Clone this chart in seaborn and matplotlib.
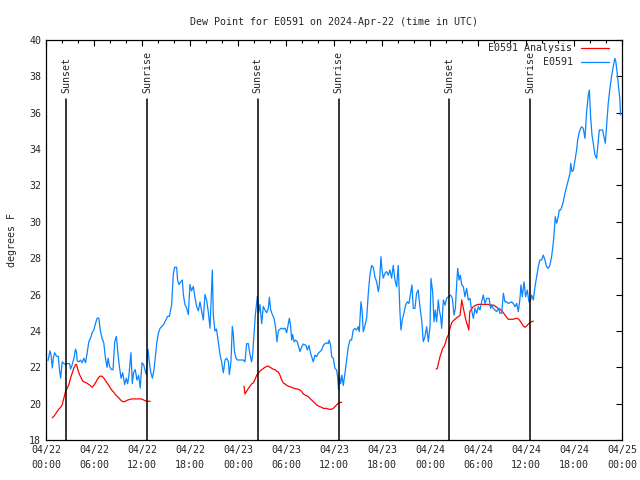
import numpy as np
import pandas as pd
import matplotlib
matplotlib.use('Agg')
import matplotlib.pyplot as plt
import seaborn as sns

# hours since 2024-04-22 00:00 UTC
obs_hours = [0.25, 0.5, 0.62, 0.79, 0.91, 1.08, 1.33, 1.54, 1.66, 1.83, 2.03, 2.24, 2.45, 2.66, 2.95,
             3.07, 3.28, 3.49, 3.69, 3.82, 3.9, 4.11, 4.31, 4.52, 4.73, 4.94, 5.15, 5.35, 5.56, 5.77,
             5.98, 6.18, 6.39, 6.6, 6.8, 7.0, 7.22, 7.43, 7.63, 7.76, 7.93, 8.18, 8.38, 8.59, 8.8,
             8.96, 9.17, 9.38, 9.59, 9.83, 10.04, 10.2, 10.37, 10.62, 10.79, 10.95, 11.16, 11.37, 11.58,
             11.78, 12.0, 12.2, 12.4, 12.53, 12.74, 12.95, 13.1, 13.3, 13.5, 13.7, 13.85, 14.06, 14.27,
             14.48, 14.7, 14.98, 15.2, 15.42, 15.71, 15.91, 16.07, 16.33, 16.45, 16.62, 16.84, 17.04,
             17.17, 17.37, 17.58, 17.79, 17.99, 18.19, 18.42, 18.63, 18.83, 19.04, 19.25, 19.46, 19.66,
             19.87, 20.08, 20.3, 20.5, 20.71, 20.79, 20.91, 21.11, 21.31, 21.54, 21.75, 21.95, 22.17,
             22.38, 22.59, 22.8, 22.92, 23.12, 23.29, 23.42, 23.54, 23.75, 23.92, 24.25, 24.67, 24.87,
             25.08, 25.29, 25.5, 25.7, 25.83, 26.0, 26.17, 26.34, 26.42, 26.58, 26.74, 26.96, 27.16,
             27.37, 27.58, 27.79, 27.92, 28.09, 28.29, 28.5, 28.71, 28.87, 29.04, 29.25, 29.45, 29.67,
             29.88, 30.08, 30.29, 30.42, 30.58, 30.71, 30.83, 31.0, 31.2, 31.41, 31.75, 31.96, 32.17,
             32.5, 32.67, 32.87, 33.07, 33.27, 33.41, 33.62, 33.83, 34.04, 34.25, 34.45, 34.66, 34.87,
             35.08, 35.28, 35.41, 35.58, 35.71, 35.91, 36.12, 36.33, 36.45, 36.58, 36.66, 36.83, 36.99,
             37.16, 37.37, 37.58, 37.79, 38.0, 38.2, 38.41, 38.62, 38.83, 39.03, 39.16, 39.37, 39.5,
             39.66, 39.83, 40.08, 40.29, 40.49, 40.7, 40.91, 41.11, 41.33, 41.54, 41.66, 41.87, 42.0,
             42.16, 42.37, 42.58, 42.78, 42.99, 43.2, 43.41, 43.62, 43.83, 44.03, 44.24, 44.37, 44.53,
             44.74, 44.95, 45.16, 45.37, 45.58, 45.74, 45.91, 46.12, 46.32, 46.53, 46.74, 46.96, 47.16,
             47.37, 47.58, 47.79, 48.0, 48.12, 48.33, 48.5, 48.66, 48.83, 49.04, 49.16, 49.33, 49.46,
             49.67, 49.88, 50.08, 50.29, 50.58, 50.8, 51.0, 51.17, 51.34, 51.46, 51.63, 51.79, 51.96,
             52.17, 52.37, 52.58, 52.79, 52.99, 53.2, 53.42, 53.62, 53.83, 54.04, 54.25, 54.45, 54.66,
             54.87, 55.08, 55.38, 55.58, 55.75, 55.91, 56.12, 56.33, 56.55, 56.75, 56.96, 57.17, 57.37,
             57.58, 57.79, 58.2, 58.41, 58.62, 58.84, 59.04, 59.25, 59.37, 59.54, 59.75, 59.95, 60.16,
             60.37, 60.58, 60.71, 60.92, 61.12, 61.33, 61.54, 61.74, 61.95, 62.16, 62.37, 62.57, 62.78,
             62.99, 63.2, 63.41, 63.53, 63.66, 63.83, 64.03, 64.16, 64.33, 64.54, 64.66, 64.87, 65.08,
             65.29, 65.5, 65.59, 65.75, 65.92, 66.13, 66.33, 66.46, 66.62, 66.75, 66.95, 67.16, 67.37,
             67.58, 67.79, 67.92, 68.08, 68.25, 68.41, 68.62, 68.83, 69.04, 69.16, 69.33, 69.57, 69.74,
             69.91, 70.07, 70.28, 70.49, 70.69, 70.9, 71.11, 71.23, 71.4, 71.57, 71.74, 71.82]
obs_dewpt = [22.37, 22.9, 22.7, 21.96, 22.5, 22.8, 22.6, 22.6, 21.96, 21.4, 22.3, 22.2, 22.15, 22.2, 22.2,
             21.9, 22.15, 22.5, 23.0, 22.8, 22.35, 22.3, 22.4, 22.25, 22.5, 22.25, 22.8, 23.4, 23.6, 23.9,
             24.05, 24.4, 24.7, 24.7, 24.0, 23.6, 23.35, 22.5, 22.0, 22.5, 22.05, 21.87, 21.87, 23.4, 23.7,
             22.9, 22.05, 21.4, 21.7, 21.05, 21.4, 21.1, 21.55, 22.8, 21.1, 21.7, 21.87, 21.3, 21.55,
             20.86, 22.25, 22.15, 21.8, 21.6, 23.0, 22.15, 21.7, 21.4, 21.87, 22.7, 23.35, 23.9, 24.15,
             24.25, 24.35, 24.6, 24.8, 24.8, 25.45, 27.1, 27.5, 27.5, 26.8, 26.55, 26.7, 26.8,
             26.0, 25.45, 25.25, 24.9, 26.55, 26.2, 26.45, 25.8, 25.35, 25.1, 25.6, 25.1, 24.6,
             26.0, 25.7, 25.0, 24.15, 26.55, 27.35, 24.9, 24.0, 24.1, 23.4, 22.7, 22.3, 21.7,
             22.4, 22.5, 22.3, 21.6, 22.3, 24.25, 23.8, 22.9, 22.5, 22.4, 22.4, 22.4, 22.3,
             23.3, 23.3, 22.7, 22.3, 22.7, 23.8, 24.9, 25.6, 25.9, 25.0, 25.45, 24.4, 25.35,
             25.15, 25.0, 25.25, 25.85, 25.15, 24.9, 24.7, 24.15, 23.4, 24.0, 24.1, 24.15, 24.1,
             24.15, 23.9, 24.4, 24.7, 24.25, 23.5, 23.8, 23.4, 23.5, 23.4, 22.86, 23.13, 23.28,
             23.2, 22.95, 23.2, 22.77, 22.5, 22.3, 22.67, 22.58, 22.77, 22.86, 22.95, 23.2, 23.3,
             23.35, 23.3, 23.5, 23.2, 22.58, 22.5, 21.94, 21.85, 21.48, 20.75, 21.57, 21.1, 21.57,
             21.0, 21.67, 22.4, 23.13, 23.5, 23.5, 24.05, 24.14, 24.05, 24.23, 23.96, 25.6, 25.15,
             23.96, 24.23, 24.7, 26.07, 27.07, 27.6, 27.5, 26.98, 26.7, 26.16, 26.5, 28.08, 27.35,
             26.9, 27.17, 27.26, 27.07, 27.35, 26.9, 27.6, 26.8, 26.43, 27.6, 25.06, 24.05, 24.6,
             24.97, 25.42, 25.6, 25.51, 26.07, 26.53, 25.24, 25.24, 26.07, 26.25, 25.33, 24.6, 23.41,
             23.68, 24.23, 23.41, 24.23, 26.89, 26.16, 24.5, 25.15, 24.5, 25.7, 25.15, 24.78, 24.14,
             25.7, 25.42, 25.79, 25.88, 25.97, 25.79, 24.87, 25.24, 26.62, 27.44, 26.8, 27.07, 26.53,
             26.43, 25.88, 26.34, 25.7, 25.79, 25.15, 24.69, 25.24, 24.97, 25.33, 25.15, 25.6, 25.97,
             25.51, 25.79, 25.79, 25.24, 25.42, 25.24, 25.15, 25.06, 25.24, 24.97, 24.97, 26.07, 25.6,
             25.6, 25.51, 25.6, 25.51, 25.33, 25.51, 25.06, 25.79, 26.53, 25.88, 26.7, 25.88, 26.25,
             25.6, 25.7, 25.97, 25.7, 26.43, 26.98, 27.53, 27.9, 27.9, 28.17, 27.9, 27.53, 27.44,
             27.62, 28.08, 28.82, 29.46, 30.28, 29.92, 30.28, 30.65, 30.65, 30.92, 31.1, 31.57, 31.93,
             32.3, 32.67, 33.22, 32.76, 32.85, 33.4, 33.95, 34.5, 34.87, 35.05, 35.23, 35.14, 34.59,
             36.06, 36.97, 37.25, 35.78, 34.77, 34.32, 33.67, 33.49, 34.5, 35.05, 35.05, 35.05, 34.68,
             34.32, 35.23, 36.52, 37.34, 37.98, 38.53, 38.99, 38.81, 38.17, 37.43, 36.7, 35.87]

# analysis runs (three separate pieces)
ana_hours_1 = [0.79, 1.0, 1.2, 1.41, 1.62, 1.83, 2.03, 2.24, 2.45, 2.66, 2.86, 3.07, 3.28, 3.49, 3.69,
               3.82, 3.98, 4.19, 4.4, 4.61, 4.81, 5.15, 5.48, 5.77, 5.98, 6.18, 6.39, 6.6, 6.8, 7.01,
               7.22, 7.43, 7.63, 7.84, 8.05, 8.26, 8.46, 8.67, 8.88, 9.09, 9.29, 9.5, 9.71, 9.92, 10.17,
               10.51, 10.8, 11.21, 11.63, 11.92, 12.13, 12.34, 12.55, 12.76, 13.02]
ana_dewpt_1 = [19.22, 19.31, 19.44, 19.58, 19.71, 19.8, 19.95, 20.32, 20.68, 20.86, 21.05, 21.41, 21.69,
               21.96, 22.15, 22.15, 21.87, 21.6, 21.41, 21.23, 21.19, 21.12, 21.01, 20.9, 21.01, 21.14,
               21.32, 21.45, 21.52, 21.5, 21.41, 21.27, 21.14, 21.01, 20.86, 20.72, 20.64, 20.5, 20.41,
               20.32, 20.22, 20.13, 20.1, 20.13, 20.19, 20.24, 20.26, 20.26, 20.26, 20.26, 20.22, 20.17,
               20.13, 20.13, 20.13]
ana_hours_2 = [24.75, 24.87, 25.08, 25.29, 25.5, 25.7, 25.91, 26.12, 26.33, 26.53, 26.75, 26.96, 27.16,
               27.37, 27.58, 27.79, 27.99, 28.2, 28.41, 28.62, 28.83, 29.04, 29.25, 29.45, 29.66, 29.88,
               30.08, 30.29, 30.5, 30.71, 30.91, 31.12, 31.33, 31.53, 31.75, 31.96, 32.17, 32.37, 32.58,
               32.79, 32.99, 33.2, 33.41, 33.62, 33.83, 34.04, 34.25, 34.45, 34.66, 34.87, 35.08, 35.28,
               35.49, 35.7, 35.91, 36.12, 36.33, 36.54, 36.74, 36.95]
ana_dewpt_2 = [20.96, 20.53, 20.68, 20.83, 20.96, 21.08, 21.14, 21.32, 21.56, 21.69, 21.78, 21.87, 21.93,
               22.0, 22.04, 22.07, 22.0, 21.95, 21.89, 21.87, 21.78, 21.74, 21.56, 21.32, 21.14, 21.08,
               21.01, 20.96, 20.92, 20.9, 20.86, 20.83, 20.81, 20.79, 20.75, 20.66, 20.53, 20.47, 20.44,
               20.38, 20.29, 20.2, 20.11, 20.02, 19.93, 19.87, 19.83, 19.8, 19.74, 19.74, 19.74, 19.7,
               19.69, 19.69, 19.74, 19.83, 19.93, 20.02, 20.07, 20.07]
ana_hours_3 = [48.76, 48.92, 49.05, 49.25, 49.46, 49.58, 49.75, 49.92, 50.08, 50.29, 50.5, 50.71, 50.92,
               51.13, 51.34, 51.55, 51.76, 51.88, 51.97, 52.09, 52.26, 52.43, 52.6, 52.72, 52.85, 52.97,
               53.18, 53.34, 53.55, 53.76, 54.05, 54.46, 54.88, 55.29, 55.5, 55.91, 56.12, 56.33, 56.54,
               56.75, 56.96, 57.17, 57.37, 57.58, 57.79, 58.0, 58.41, 58.74, 59.03, 59.24, 59.45, 59.66,
               59.87, 60.08, 60.29, 60.5, 60.71, 60.92]
ana_dewpt_3 = [21.9, 21.94, 22.22, 22.58, 22.86, 23.04, 23.13, 23.32, 23.59, 23.77, 24.14, 24.45, 24.56,
               24.64, 24.73, 24.78, 24.87, 25.33, 25.7, 25.42, 25.06, 24.69, 24.42, 24.27, 24.05, 25.06,
               25.19, 25.3, 25.37, 25.42, 25.46, 25.46, 25.46, 25.46, 25.42, 25.42, 25.37, 25.3, 25.24,
               25.19, 25.11, 25.0, 24.87, 24.75, 24.64, 24.64, 24.64, 24.69, 24.67, 24.56, 24.42, 24.27,
               24.2, 24.27, 24.38, 24.45, 24.51, 24.54]

sunset_hours = [2.54, 26.46, 50.42]
sunrise_hours = [12.66, 36.58, 60.54]

tick_hours = list(range(0, 73, 6))
tick_labels = ['04/22\n00:00', '04/22\n06:00', '04/22\n12:00', '04/22\n18:00',
               '04/23\n00:00', '04/23\n06:00', '04/23\n12:00', '04/23\n18:00',
               '04/24\n00:00', '04/24\n06:00', '04/24\n12:00', '04/24\n18:00',
               '04/25\n00:00']

sns.set_style('white')
plt.rcParams['font.family'] = ['DejaVu Sans Mono']
fs = 7.2
plt.rcParams['font.size'] = fs

fig = plt.figure(figsize=(6.4, 4.8), dpi=100)
ax = fig.add_axes([46 / 640, 40 / 480, 576 / 640, 400 / 480])

red = '#ff0000'
blue = '#0a84ff'

seg1 = pd.DataFrame({'hour': ana_hours_1, 'dewpt': ana_dewpt_1})
seg2 = pd.DataFrame({'hour': ana_hours_2, 'dewpt': ana_dewpt_2})
seg3 = pd.DataFrame({'hour': ana_hours_3, 'dewpt': ana_dewpt_3})
obs = pd.DataFrame({'hour': obs_hours, 'dewpt': obs_dewpt})

sns.lineplot(data=seg1, x='hour', y='dewpt', color=red, lw=0.9, ax=ax, label='E0591 Analysis')
sns.lineplot(data=seg2, x='hour', y='dewpt', color=red, lw=0.9, ax=ax)
sns.lineplot(data=seg3, x='hour', y='dewpt', color=red, lw=0.9, ax=ax)
sns.lineplot(data=obs, x='hour', y='dewpt', color=blue, lw=0.9, ax=ax, label='E0591')

# sunset / sunrise markers
line_top = (36.75 - 18) / 22
for h in sunset_hours:
    ax.axvline(h, ymin=0, ymax=line_top, color='black', lw=1.1)
    ax.text(h, 37.1, 'Sunset', rotation=90, ha='center', va='bottom', fontsize=fs)
for h in sunrise_hours:
    ax.axvline(h, ymin=0, ymax=line_top, color='black', lw=1.1)
    ax.text(h, 37.1, 'Sunrise', rotation=90, ha='center', va='bottom', fontsize=fs)

ax.set_xlim(0, 72)
ax.set_ylim(18, 40)
ax.set_xticks(tick_hours)
ax.set_xticks(range(0, 73, 2), minor=True)
ax.set_xticklabels(tick_labels)
for t in ax.get_xticklabels():
    t.set_linespacing(1.7)
ax.set_yticks(range(18, 41, 2))
ax.tick_params(which='major', direction='in', length=4, width=0.8, top=True, right=True,
               labelsize=fs, color='black')
ax.tick_params(which='minor', direction='in', length=2.5, width=0.8, top=True, right=True,
               color='black')
for s in ax.spines.values():
    s.set_color('black')
    s.set_linewidth(0.9)

ax.set_xlabel('')
ax.set_ylabel('degrees F', fontsize=fs, labelpad=9)
ax.set_title('Dew Point for E0591 on 2024-Apr-22 (time in UTC)', fontsize=fs, pad=11)

ax.legend(loc='upper right', bbox_to_anchor=(1 - 10 / 576, 1), frameon=False, markerfirst=False,
          handlelength=2.8, handletextpad=0.8, borderaxespad=0, borderpad=0.35,
          labelspacing=0.4, fontsize=fs)

fig.savefig('out.png', dpi=100)
